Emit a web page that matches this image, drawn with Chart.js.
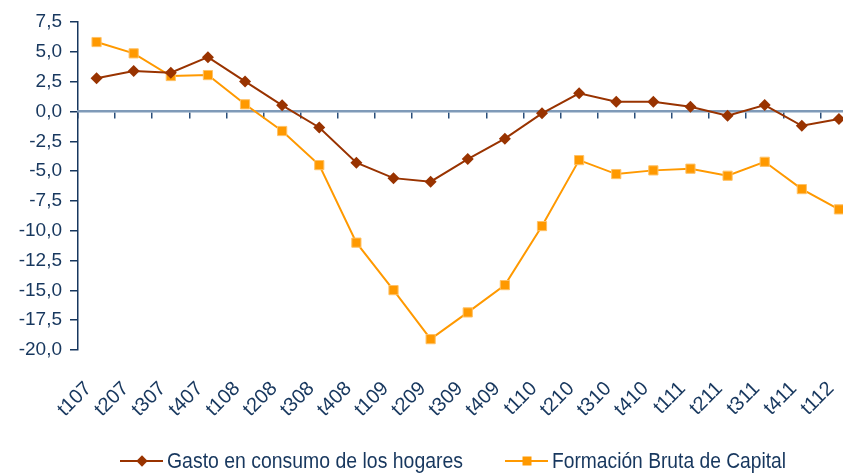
<!DOCTYPE html>
<html>
<head>
<meta charset="utf-8">
<script src="https://cdn.jsdelivr.net/npm/chart.js@4.4.0/dist/chart.umd.min.js"></script>
<style>
  html, body { margin: 0; padding: 0; background: #fff; width: 843px; height: 473px; overflow: hidden; }
  #wrap { position: relative; width: 843px; height: 473px; overflow: hidden; }
  #c { position: absolute; left: 0; top: 0; }
  .lg { position: absolute; top: 449px; height: 24px; display: flex; align-items: center;
        font-family: "Liberation Sans", Arial, sans-serif;
        font-size: 22px; color: #17375E; white-space: nowrap; }
  .sym { position: relative; width: 43px; height: 2px; margin-right: 4px; flex: none; }
  .mk { position: absolute; left: 50%; top: 50%; }
  .tx { display: inline-block; transform-origin: 0 50%; }
</style>
</head>
<body>
<div id="wrap">
  <canvas id="c" width="865" height="473"></canvas>
  <div class="lg" style="left:120px;">
    <span class="sym" style="background:#993300;"><span class="mk" style="width:8px;height:8px;background:#993300;transform:translate(-50%,-50%) rotate(45deg);"></span></span>
    <span class="tx" id="t1" data-w="296">Gasto en consumo de los hogares</span>
  </div>
  <div class="lg" style="left:505px;">
    <span class="sym" style="background:#FF9900;"><span class="mk" style="width:9px;height:9px;background:#FF9900;transform:translate(-50%,-50%);"></span></span>
    <span class="tx" id="t2" data-w="234">Formación Bruta de Capital</span>
  </div>
</div>
<script>
const categories = ["t107","t207","t307","t407","t108","t208","t308","t408","t109","t209","t309","t409","t110","t210","t310","t410","t111","t211","t311","t411","t112"];
const gastoHogares = [2.78, 3.39, 3.25, 4.55, 2.52, 0.51, -1.34, -4.30, -5.59, -5.89, -3.99, -2.28, -0.16, 1.52, 0.82, 0.82, 0.40, -0.36, 0.54, -1.20, -0.64];
const formacionBruta = [5.82, 4.87, 2.97, 3.05, 0.60, -1.64, -4.50, -11.0, -14.98, -19.09, -16.85, -14.56, -9.61, -4.08, -5.25, -4.94, -4.80, -5.39, -4.22, -6.51, -8.21];
const seriesNames = ["Gasto en consumo de los hogares", "Formación Bruta de Capital"];
const yMin = -20, yMax = 7.5, yStep = 2.5;

document.getElementById('t1').textContent = seriesNames[0];
document.getElementById('t2').textContent = seriesNames[1];
document.querySelectorAll('.tx').forEach(el => {
  const w = el.getBoundingClientRect().width;
  const target = parseFloat(el.dataset.w);
  el.style.transform = 'scaleX(' + (target / w).toFixed(4) + ')';
});

const navy = '#17375E';
const font = { family: '"Liberation Sans", Arial, sans-serif', size: 19 };
const xfont = { family: '"Liberation Sans", Arial, sans-serif', size: 20 };

new Chart(document.getElementById('c'), {
  type: 'line',
  data: {
    labels: categories,
    datasets: [
      { label: seriesNames[0], data: gastoHogares, borderColor: '#993300', backgroundColor: '#993300',
        borderWidth: 2, pointStyle: 'rectRot', pointRadius: 6, pointBorderWidth: 0, pointHoverRadius: 6,
        xAxisID: 'x', yAxisID: 'y', tension: 0 },
      { label: seriesNames[1], data: formacionBruta, borderColor: '#FF9900', backgroundColor: '#FF9900',
        borderWidth: 2, pointStyle: 'rect', pointRadius: 6.5, pointBorderWidth: 1, pointBorderColor: '#FFC266',
        xAxisID: 'x', yAxisID: 'y', tension: 0 }
    ]
  },
  options: {
    responsive: false,
    animation: false,
    events: [],
    layout: { padding: { top: 22, bottom: 48, left: 0, right: 0 } },
    plugins: { legend: { display: false }, tooltip: { enabled: false } },
    scales: {
      y: {
        min: yMin, max: yMax,
        afterFit(s) { s.width = 78; },
        ticks: { stepSize: yStep, color: navy, font: font, padding: 8,
                 callback: v => v.toFixed(1).replace('.', ',') },
        grid: { drawOnChartArea: false, drawTicks: true, tickLength: 8, tickColor: navy, lineWidth: 1.5 },
        border: { color: navy, width: 1.5 }
      },
      x: {
        type: 'category',
        position: { y: 0 },
        offset: true,
        afterFit(s) { s.height = 6; s.paddingLeft = 0; s.paddingRight = 0; },
        ticks: { display: false },
        grid: { offset: true, drawOnChartArea: false, drawTicks: true, tickLength: 6, tickColor: '#2B4F7A', lineWidth: 1.5 },
        border: { color: '#7F9AB8', width: 2.5 }
      },
      x2: {
        type: 'category',
        position: 'bottom',
        offset: true,
        afterFit(s) { s.height = 75; s.paddingLeft = 0; s.paddingRight = 0; },
        ticks: { color: navy, font: xfont, minRotation: 45, maxRotation: 45, padding: 27, labelOffset: -8, autoSkip: false },
        grid: { display: false, drawTicks: false },
        border: { display: false }
      }
    }
  }
});
</script>
</body>
</html>
